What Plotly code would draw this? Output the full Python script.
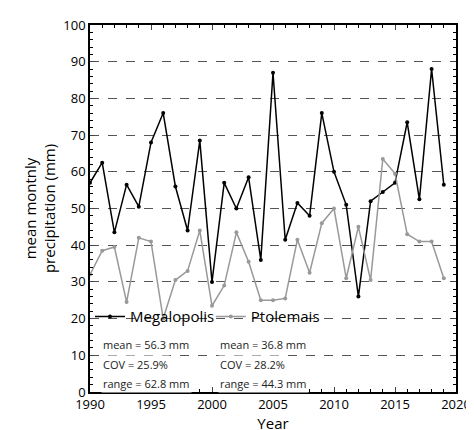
import plotly.graph_objects as go

years = list(range(1990, 2020))
megalopolis = [57, 62.5, 43.5, 56.5, 50.5, 68, 76, 56, 44, 68.5, 30, 57, 50, 58.5, 36, 87,
               41.5, 51.5, 48, 76, 60, 51, 26, 52, 54.5, 57, 73.5, 52.5, 88, 56.5]
ptolemais = [32, 38.5, 39.5, 24.5, 42, 41, 20, 30.5, 33, 44, 23.5, 29, 43.5, 35.5, 25, 25,
             25.5, 41.5, 32.5, 46, 50, 31, 45, 30.5, 63.5, 59.5, 43, 41, 41, 31]
stats_meg = ["mean = 56.3 mm", "COV = 25.9%", "range = 62.8 mm"]
stats_pto = ["mean = 36.8 mm", "COV = 28.2%", "range = 44.3 mm"]

fig = go.Figure()
fig.add_trace(go.Scatter(x=years, y=megalopolis, mode="lines+markers", name="Megalopolis",
                         line=dict(color="black", width=1.5), marker=dict(size=4, color="black")))
fig.add_trace(go.Scatter(x=years, y=ptolemais, mode="lines+markers", name="Ptolemais",
                         line=dict(color="#999999", width=1.5), marker=dict(size=4, color="#999999")))

# stats text under the legend
for i, t in enumerate(stats_meg):
    fig.add_annotation(x=1990.9, y=13 - i * 5.4, text=t, showarrow=False, xanchor="left",
                       font=dict(size=11, color="#222"), bgcolor="white")
for i, t in enumerate(stats_pto):
    fig.add_annotation(x=2000.5, y=13 - i * 5.4, text=t, showarrow=False, xanchor="left",
                       font=dict(size=11, color="#222"), bgcolor="white")

fig.update_xaxes(range=[1990, 2020], dtick=5, ticks="inside", ticklen=5, mirror="ticks",
                 showline=True, linecolor="black", linewidth=1.5, showgrid=False,
                 minor=dict(dtick=1, ticks="inside", ticklen=3, tickcolor="black"),
                 title=dict(text="Year", font=dict(size=15), standoff=4), tickfont=dict(size=13))
fig.update_yaxes(range=[0, 100], dtick=10, ticks="inside", ticklen=5, mirror="ticks",
                 showline=True, linecolor="black", linewidth=1.5,
                 showgrid=True, gridcolor="#555", griddash="dash", gridwidth=0.8,
                 minor=dict(dtick=2, ticks="inside", ticklen=3, tickcolor="black"),
                 title=dict(text="mean montnly<br>precipitation (mm)", font=dict(size=15), standoff=4),
                 tickfont=dict(size=13), zeroline=False)
fig.update_layout(width=474, height=430, plot_bgcolor="white", paper_bgcolor="white",
                  font=dict(family="Open Sans", color="black"),
                  margin=dict(l=82, r=26, t=17, b=46, autoexpand=False),
                  legend=dict(orientation="h", x=0.0, y=0.205, xanchor="left", yanchor="middle",
                              bgcolor="rgba(0,0,0,0)", font=dict(size=15), itemwidth=30,
                              entrywidth=0.33, entrywidthmode="fraction", tracegroupgap=0))
fig.write_html("out.html")
